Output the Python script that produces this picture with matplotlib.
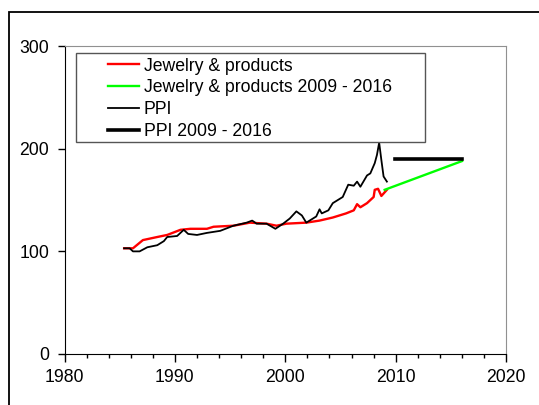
import matplotlib

matplotlib.use("Agg")
import matplotlib.pyplot as plt
from matplotlib.patches import Rectangle
from matplotlib.ticker import MultipleLocator

plt.rcParams["font.family"] = ["Liberation Sans", "DejaVu Sans"]

# Jewelry & products index (red)
jewelry_years = [1985.4, 1986.2, 1987.1, 1988.4, 1989.3, 1990.5, 1991.4, 1992.9, 1993.5,
                 1995.3, 1996.8, 1998.3, 1999.2, 2000.1, 2001.9, 2003.1, 2004.3, 2005.5,
                 2006.2, 2006.5, 2006.8, 2007.4, 2008.0, 2008.1, 2008.4, 2008.7, 2009.2]
jewelry_vals = [103, 103, 111, 114, 116, 121, 122, 122, 124,
                125, 128, 127, 125, 127, 128, 130, 133, 137,
                140, 146, 143, 147, 153, 160, 161, 154, 160]

# PPI (black)
ppi_years = [1985.4, 1985.9, 1986.2, 1986.8, 1987.5, 1988.4, 1989.0, 1989.3, 1990.2,
             1990.8, 1991.2, 1992.0, 1992.9, 1994.1, 1995.3, 1996.5, 1997.0, 1997.4,
             1998.3, 1999.1, 1999.8, 2000.4, 2001.0, 2001.5, 2001.9, 2002.8, 2003.1,
             2003.3, 2003.9, 2004.3, 2005.2, 2005.7, 2006.2, 2006.5, 2006.8, 2007.4,
             2007.7, 2008.1, 2008.3, 2008.5, 2008.7, 2008.9, 2009.2]
ppi_vals = [103, 103, 100, 100, 104, 106, 110, 114, 115,
            121, 117, 116, 118, 120, 125, 128, 130, 127,
            127, 122, 127, 132, 139, 135, 128, 134, 141,
            137, 140, 147, 153, 165, 164, 168, 163, 174,
            176, 186, 194, 206, 189, 173, 168]

# 2009 - 2016 projections
jewelry_proj_years = [2009.0, 2016.0]
jewelry_proj_vals = [160, 188]
ppi_proj_years = [2009.9, 2016.0]
ppi_proj_vals = [190, 190]

fig = plt.figure(figsize=(5.39, 4.05), dpi=100)
ax = fig.add_axes([0.1197, 0.126, 0.8193, 0.760])

ax.plot(jewelry_years, jewelry_vals, color="#ff0000", linewidth=1.7, label="Jewelry & products")
ax.plot(jewelry_proj_years, jewelry_proj_vals, color="#00ff00", linewidth=1.7,
        label="Jewelry & products 2009 - 2016")
ax.plot(ppi_years, ppi_vals, color="black", linewidth=1.3, label="PPI")
ax.plot(ppi_proj_years, ppi_proj_vals, color="black", linewidth=2.6, label="PPI 2009 - 2016")

ax.set_xlim(1980, 2020)
ax.set_ylim(0, 300)
ax.xaxis.set_major_locator(MultipleLocator(10))
ax.xaxis.set_minor_locator(MultipleLocator(2))
ax.yaxis.set_major_locator(MultipleLocator(100))
ax.tick_params(axis="both", which="major", direction="out", length=5, width=1,
               labelsize=12.7, colors="black")
ax.tick_params(axis="x", which="major", length=6, pad=5)
ax.tick_params(axis="x", which="minor", direction="out", length=3, width=1)
ax.tick_params(axis="y", which="major", pad=6)

ax.spines["left"].set_color("black")
ax.spines["bottom"].set_color("black")
ax.spines["top"].set_color("#909090")
ax.spines["right"].set_color("#909090")

# legend box drawn separately so it can be wider than the entries
ax.add_patch(Rectangle((0.026, 0.688), 0.7906, 0.289, transform=ax.transAxes,
                       facecolor="white", edgecolor="#555555", linewidth=1.0, zorder=4))
leg = ax.legend(loc="upper left", bbox_to_anchor=(0.0985, 0.963), fontsize=12.7,
                frameon=False, handlelength=1.76, handletextpad=0.28, borderpad=0,
                labelspacing=0.27, borderaxespad=0)
leg.set_zorder(5)

# outer chart frame running off the right and bottom edges
fig.patches.append(Rectangle((9 / 539, -0.1), 1.2, 1 - 12 / 405 + 0.1,
                             transform=fig.transFigure, fill=False,
                             edgecolor="black", linewidth=1.3))

fig.savefig("out.png", dpi=100)
